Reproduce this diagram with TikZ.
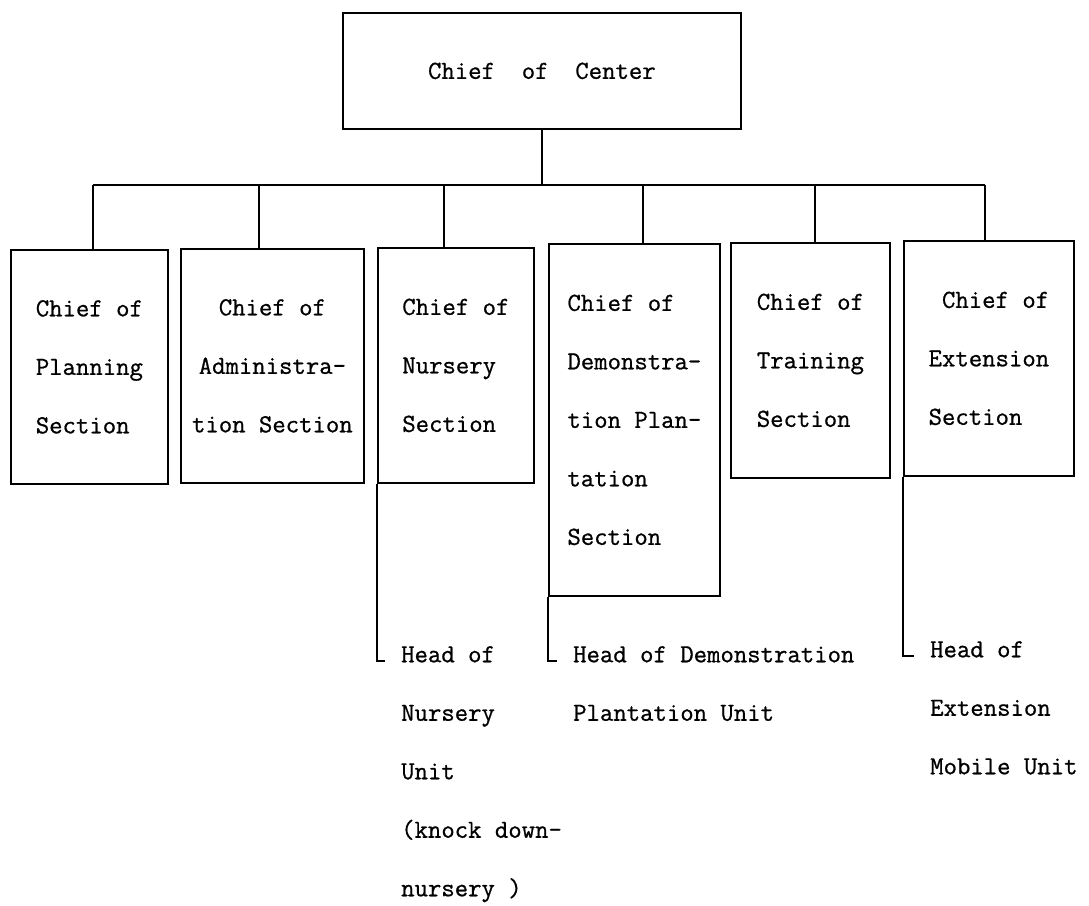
\documentclass[tikz,border=0pt]{standalone}
\usepackage{fontspec}
\setmonofont[FakeBold=0.8]{Latin Modern Mono}
\usepackage{tikz}
\newcommand{\chartfont}{\ttfamily\fontsize{26}{58.5}\selectfont}
\tikzset{
  chief/.style={rectangle, draw=black, line width=1.8pt, inner sep=0pt, align=center, anchor=north west, font=\chartfont},
  section/.style={rectangle, draw=black, line width=1.8pt, inner sep=0pt, align=left, anchor=north west, font=\chartfont},
  unit/.style={inner sep=0pt, align=left, anchor=north west, font=\chartfont},
  link/.style={line width=1.8pt},
}
\begin{document}
\begin{tikzpicture}[x=1pt, y=-1pt]
\useasboundingbox (0,0) rectangle (1089,905);
\node[chief, minimum width=398pt, minimum height=116pt] (ctr) at (342,12) {Chief~~of~~Center};
\node[section, minimum width=157pt, minimum height=234pt] (plan) at (10,249) {Chief of\\Planning\\Section};
\node[section, align=center, minimum width=183pt, minimum height=234pt] (admin) at (180,248) {Chief of\\Administra-\\tion Section};
\node[section, minimum width=156pt, minimum height=235pt] (nurs) at (377,247) {Chief of\\Nursery\\Section};
\node[section, minimum width=171pt, minimum height=352pt] (demo) at (548,243) {Chief of\\Demonstra-\\tion Plan-\\tation\\Section};
\node[section, minimum width=159pt, minimum height=235pt] (train) at (730,242) {Chief of\\Training\\Section};
\node[section, minimum width=170pt, minimum height=235pt] (ext) at (903,240) {~Chief of\\Extension\\Section};
% units under the sections
\node[unit] (hnurs) at (401,646) {Head of\\Nursery\\Unit\\(knock down-\\nursery )};
\node[unit] (hdemo) at (573,646) {Head of Demonstration\\Plantation Unit};
\node[unit] (hext) at (930,641) {Head of\\Extension\\Mobile Unit};
% bus line
\coordinate (busL) at (93,185);
\coordinate (busR) at (985,185);
\draw[link] (ctr.south) -- (ctr.south |- busL);
\draw[link] (busL) -- (busR);
\foreach \n/\x in {plan/93, admin/259, nurs/444, demo/643, train/815, ext/985} {
  \coordinate (b-\n) at (\x,185);
  \draw[link] (b-\n) -- (b-\n |- \n.north);
}
\foreach \s/\h in {nurs/hnurs, demo/hdemo, ext/hext} {
  \coordinate (k-\h) at ([xshift=-16pt, yshift=-15pt]\h.north west);
  \draw[link] (\s.south west) |- (k-\h);
}
\end{tikzpicture}
\end{document}
